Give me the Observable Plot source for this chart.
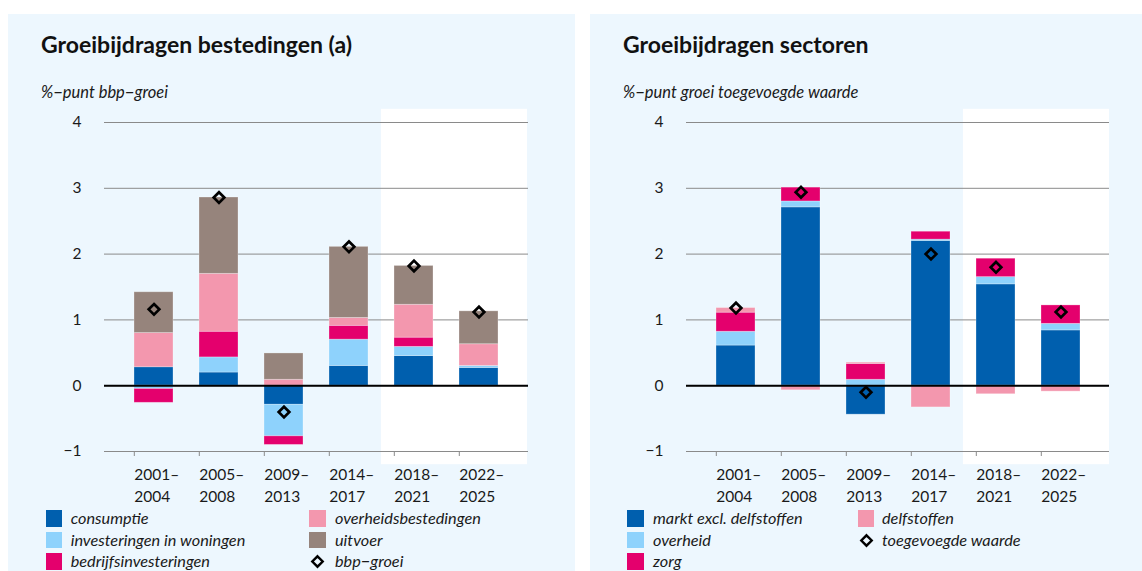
<!DOCTYPE html>
<html>
<head>
<meta charset="utf-8">
<script src="https://cdn.jsdelivr.net/npm/d3@7"></script>
<script src="https://cdn.jsdelivr.net/npm/@observablehq/plot@0.6"></script>
<style>
  html, body { margin: 0; padding: 0; background: #ffffff; }
  body { width: 1142px; height: 571px; overflow: hidden; position: relative; font-family: Lato, "Noto Sans", sans-serif; color: #1a1a1a; }
  .panel { position: absolute; top: 14px; height: 620px; background: #edf7fe; }
  .title { position: absolute; left: 33px; top: 19px; font-size: 23px; line-height: 23px; font-weight: 700; color: #111; white-space: nowrap; }
  .subtitle { position: absolute; left: 33px; top: 70px; font-size: 16.5px; line-height: 16.5px; font-style: italic; color: #1a1a1a; white-space: nowrap; }
  .chart { position: absolute; left: 0; top: 86px; }
  .leg { position: absolute; display: flex; align-items: flex-start; white-space: nowrap; }
  .sw { width: 16.5px; height: 16.5px; }
  .lt { font-style: italic; font-size: 16.3px; line-height: 16px; position: absolute; top: 0px; }
</style>
</head>
<body>
<div class="panel" id="p1" style="left:8px; width:567px;">
  <div class="title">Groeibijdragen bestedingen (a)</div>
  <div class="subtitle">%−punt bbp−groei</div>
</div>
<div class="panel" id="p2" style="left:590px; width:552px;">
  <div class="title">Groeibijdragen sectoren</div>
  <div class="subtitle">%−punt groei toegevoegde waarde</div>
</div>
<script>
// ---------- data ----------
const periods = ["2001–2004", "2005–2008", "2009–2013", "2014–2017", "2018–2021", "2022–2025"];
const forecastPeriods = ["2018–2021", "2022–2025"];
const yTicks = [-1, 0, 1, 2, 3, 4];

// Groeibijdragen bestedingen
const consumptie = [0.28, 0.20, -0.29, 0.30, 0.45, 0.27];
const woningen = [-0.05, 0.23, -0.48, 0.40, 0.14, 0.03];
const bedrijfsinvesteringen = [-0.21, 0.39, -0.13, 0.21, 0.14, 0.00];
const overheidsbestedingen = [0.52, 0.88, 0.09, 0.12, 0.50, 0.33];
const uitvoer = [0.62, 1.16, 0.40, 1.08, 0.59, 0.50];
const bbpGroei = [1.16, 2.86, -0.40, 2.11, 1.82, 1.12];

// Groeibijdragen sectoren
const marktExclDelfstoffen = [0.61, 2.71, -0.44, 2.20, 1.54, 0.84];
const overheid = [0.21, 0.09, 0.09, 0.02, 0.11, 0.10];
const zorg = [0.29, 0.21, 0.24, 0.12, 0.28, 0.28];
const delfstoffen = [0.07, -0.07, 0.02, -0.33, -0.13, -0.09];
const toegevoegdeWaarde = [1.18, 2.94, -0.10, 2.00, 1.80, 1.12];

// ---------- colours ----------
const cBlue = "#005fae", cLight = "#8ed2fc", cMagenta = "#e4006d", cPink = "#f397ae", cBrown = "#96847c";

const leftSeries = [
  {name: "consumptie", values: consumptie, color: cBlue},
  {name: "investeringen in woningen", values: woningen, color: cLight},
  {name: "bedrijfsinvesteringen", values: bedrijfsinvesteringen, color: cMagenta},
  {name: "overheidsbestedingen", values: overheidsbestedingen, color: cPink},
  {name: "uitvoer", values: uitvoer, color: cBrown}
];
const rightSeries = [
  {name: "markt excl. delfstoffen", values: marktExclDelfstoffen, color: cBlue},
  {name: "overheid", values: overheid, color: cLight},
  {name: "zorg", values: zorg, color: cMagenta},
  {name: "delfstoffen", values: delfstoffen, color: cPink}
];

const fmtY = d => d < 0 ? "−" + Math.abs(d) : String(d);
const fmtX = p => p.replace("–", "–\n");

function makeChart(series, totals, width, marginRight) {
  const rows = series.flatMap(s => periods.map((p, i) => ({period: p, series: s.name, value: s.values[i]})));
  const tot = periods.map((p, i) => ({period: p, value: totals[i]}));
  const fc = forecastPeriods.map(p => ({period: p}));
  return Plot.plot({
    width, height: 406,
    marginLeft: 96, marginRight, marginTop: 22, marginBottom: 55,
    style: {background: "transparent", fontFamily: "Lato, 'Noto Sans', sans-serif", fontSize: "15px", color: "#1a1a1a", overflow: "visible"},
    x: {domain: periods, paddingInner: 0.4, paddingOuter: 0.44, label: null},
    y: {domain: [-1, 4], label: null},
    color: {domain: series.map(s => s.name), range: series.map(s => s.color)},
    marks: [
      Plot.barY(fc.slice(0, 1), {x: "period", y1: () => -1.2, y2: () => 4.2, fill: "white", insetLeft: -13.1, insetRight: -13.1}),
      Plot.barY(fc.slice(1), {x: "period", y1: () => -1.2, y2: () => 4.2, fill: "white", insetLeft: -13.1, insetRight: -29}),
      Plot.gridY(yTicks, {stroke: "#8a8a8a", strokeOpacity: 1, strokeWidth: 1}),
      Plot.axisY(yTicks, {tickSize: 0, tickPadding: 23, tickFormat: fmtY, fontSize: 15.5}),
      Plot.axisX({tickSize: 5, tickPadding: 9, tickFormat: fmtX, stroke: "#8a8a8a", lineHeight: 1.36, textAnchor: "start", dx: -19.7, fontSize: 15.5}),
      Plot.barY(rows, Plot.stackY({x: "period", y: "value", fill: "series", order: series.map(s => s.name), stroke: "white", strokeOpacity: 0.35, strokeWidth: 0.8})),
      Plot.ruleY([0], {stroke: "#000", strokeWidth: 2}),
      Plot.dot(tot, {x: "period", y: "value", symbol: "diamond2", r: 4.8, stroke: "#000", strokeWidth: 2.7, fill: "none"})
    ]
  });
}

function addLegend(panel, items, diamondLabel, cols) {
  const all = items.map(s => ({name: s.name, color: s.color})).concat([{name: diamondLabel, diamond: true}]);
  const perCol = 3;
  all.forEach((it, i) => {
    const col = Math.floor(i / perCol), row = i % perCol;
    const el = document.createElement("div");
    el.className = "leg";
    el.style.left = cols[col].sw + "px";
    el.style.top = (496 + row * 21.7) + "px";
    if (it.diamond) {
      el.innerHTML = `<svg width="17" height="17" viewBox="0 0 17 17"><path d="M8.5 3.3 L13.7 8.5 L8.5 13.7 L3.3 8.5 Z" fill="none" stroke="#000" stroke-width="2.4"/></svg>`;
    } else {
      const sw = document.createElement("div");
      sw.className = "sw";
      sw.style.background = it.color;
      el.appendChild(sw);
    }
    const t = document.createElement("div");
    t.className = "lt";
    t.style.left = (cols[col].tx - cols[col].sw) + "px";
    t.textContent = it.name;
    el.appendChild(t);
    panel.appendChild(el);
  });
}

const p1 = document.getElementById("p1");
const p2 = document.getElementById("p2");
const c1 = makeChart(leftSeries, bbpGroei, 567, 47);
c1.classList.add("chart");
p1.appendChild(c1);
const c2 = makeChart(rightSeries, toegevoegdeWaarde, 552, 33);
c2.classList.add("chart");
p2.appendChild(c2);

addLegend(p1, leftSeries, "bbp−groei", [{sw: 37.7, tx: 62.7}, {sw: 301, tx: 327}]);
addLegend(p2, rightSeries, "toegevoegde waarde", [{sw: 37, tx: 63}, {sw: 267.5, tx: 292}]);
</script>
</body>
</html>
